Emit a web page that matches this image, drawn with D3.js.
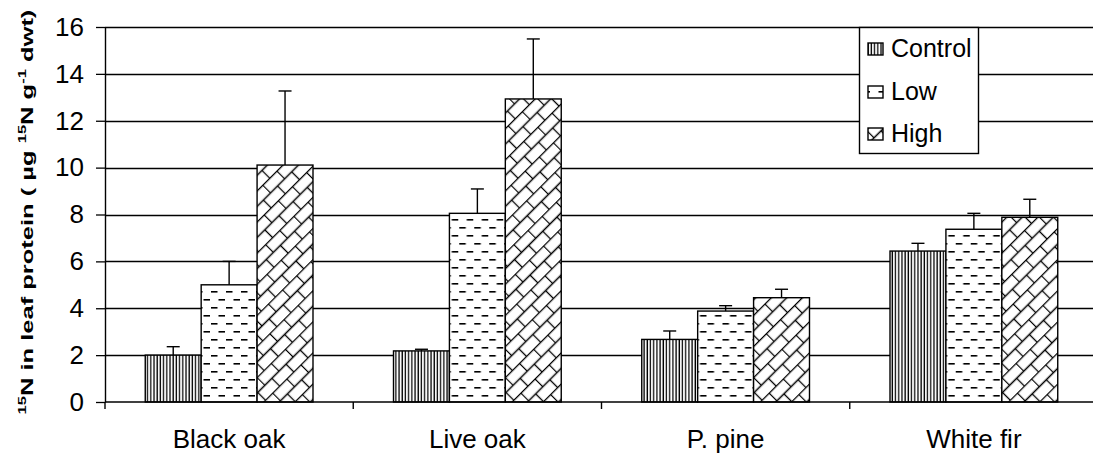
<!DOCTYPE html>
<html>
<head>
<meta charset="utf-8">
<script src="https://d3js.org/d3.v7.min.js"></script>
<style>
  body { margin: 0; background: #fff; }
  text { font-family: "Liberation Sans", Arial, sans-serif; fill: #000; }
</style>
</head>
<body>
<svg id="chart" width="1093" height="456"></svg>
<script>
// chart data
const categories = ["Black oak", "Live oak", "P. pine", "White fir"];
const series = ["Control", "Low", "High"];
const controlValues = [2.0, 2.18, 2.67, 6.44];
const controlErrors = [0.36, 0.07, 0.36, 0.33];
const lowValues = [5.0, 8.05, 3.88, 7.37];
const lowErrors = [1.0, 1.04, 0.23, 0.68];
const highValues = [10.11, 12.93, 4.45, 7.88];
const highErrors = [3.16, 2.56, 0.36, 0.77];
const yTicks = [0, 2, 4, 6, 8, 10, 12, 14, 16];

const values = {Control: controlValues, Low: lowValues, High: highValues};
const errors = {Control: controlErrors, Low: lowErrors, High: highErrors};
const patternIds = {Control: "patControl", Low: "patLow", High: "patHigh"};

const svg = d3.select("#chart");

// plot area edges
const plotLeft = 105, plotRight = 1098, plotTop = 27, plotBottom = 402;

const x0 = d3.scaleBand().domain(categories).range([plotLeft, plotRight]).paddingInner(0).paddingOuter(0);
const x1 = d3.scaleBand().domain(series).range([0, x0.bandwidth()]).paddingInner(0).paddingOuter(0.72);
const y = d3.scaleLinear().domain([0, 16]).range([plotBottom, plotTop]);

// fill patterns
const defs = svg.append("defs");

const pc = defs.append("pattern").attr("id", "patControl")
  .attr("patternUnits", "userSpaceOnUse").attr("width", 3.2).attr("height", 10);
pc.append("rect").attr("width", 3.2).attr("height", 10).attr("fill", "#fff");
pc.append("line").attr("x1", 1).attr("x2", 1).attr("y1", 0).attr("y2", 10)
  .attr("stroke", "#000").attr("stroke-width", 1.3);

const pl = defs.append("pattern").attr("id", "patLow")
  .attr("patternUnits", "userSpaceOnUse").attr("width", 15).attr("height", 16);
pl.append("rect").attr("width", 15).attr("height", 16).attr("fill", "#fff");
pl.append("rect").attr("x", 1).attr("y", 3).attr("width", 6.5).attr("height", 1.6).attr("fill", "#000");
pl.append("rect").attr("x", 8.5).attr("y", 11).attr("width", 6.5).attr("height", 1.6).attr("fill", "#000");

// brick pattern turned 45 degrees
const ph = defs.append("pattern").attr("id", "patHigh")
  .attr("patternUnits", "userSpaceOnUse").attr("width", 20).attr("height", 22)
  .attr("patternTransform", "rotate(-45)");
ph.append("rect").attr("width", 20).attr("height", 22).attr("fill", "#fff");
ph.append("path")
  .attr("d", "M0,0.5H20M0,11.5H20M0.5,0V11.5M10.5,11.5V22")
  .attr("stroke", "#000").attr("stroke-width", 1.3).attr("fill", "none");

// gridlines
svg.append("g").selectAll("line")
  .data(yTicks.filter(d => d > 0))
  .join("line")
  .attr("x1", plotLeft).attr("x2", 1093)
  .attr("y1", d => Math.round(y(d)) + 0.5).attr("y2", d => Math.round(y(d)) + 0.5)
  .attr("stroke", "#000").attr("stroke-width", 1.3);

// bars
const groups = svg.append("g").selectAll("g")
  .data(categories)
  .join("g")
  .attr("transform", d => "translate(" + x0(d) + ",0)");

groups.selectAll("rect")
  .data((d, i) => series.map(s => ({s: s, v: values[s][i], e: errors[s][i]})))
  .join("rect")
  .attr("x", d => x1(d.s))
  .attr("y", d => y(d.v))
  .attr("width", x1.bandwidth())
  .attr("height", d => y(0) - y(d.v))
  .attr("fill", d => "url(#" + patternIds[d.s] + ")")
  .attr("stroke", "#000").attr("stroke-width", 1.4);

// error bars, upward only
const err = groups.selectAll("g.err")
  .data((d, i) => series.map(s => ({s: s, v: values[s][i], e: errors[s][i]})))
  .join("g").attr("class", "err");
err.append("line")
  .attr("x1", d => x1(d.s) + x1.bandwidth() / 2).attr("x2", d => x1(d.s) + x1.bandwidth() / 2)
  .attr("y1", d => y(d.v)).attr("y2", d => y(d.v + d.e))
  .attr("stroke", "#000").attr("stroke-width", 1.4);
err.append("line")
  .attr("x1", d => x1(d.s) + x1.bandwidth() / 2 - 6.5).attr("x2", d => x1(d.s) + x1.bandwidth() / 2 + 6.5)
  .attr("y1", d => y(d.v + d.e)).attr("y2", d => y(d.v + d.e))
  .attr("stroke", "#000").attr("stroke-width", 1.4);

// y axis
const yAxis = svg.append("g")
  .attr("transform", "translate(" + plotLeft + ",0)")
  .call(d3.axisLeft(y).tickValues(yTicks).tickSize(9).tickPadding(12).tickSizeOuter(0));
yAxis.selectAll("line").attr("stroke", "#000").attr("stroke-width", 1.3);
yAxis.select(".domain").attr("stroke", "#000").attr("stroke-width", 1.4);
yAxis.selectAll("text").style("font-size", "26px").attr("font-family", null);

// x axis, ticks on category boundaries
svg.append("line")
  .attr("x1", plotLeft).attr("x2", 1093).attr("y1", plotBottom).attr("y2", plotBottom)
  .attr("stroke", "#000").attr("stroke-width", 1.4);
svg.append("g").selectAll("line")
  .data(categories)
  .join("line")
  .attr("x1", d => x0(d)).attr("x2", d => x0(d))
  .attr("y1", plotBottom).attr("y2", plotBottom + 7)
  .attr("stroke", "#000").attr("stroke-width", 1.4);
svg.append("g").selectAll("text")
  .data(categories)
  .join("text")
  .attr("x", d => x0(d) + x0.bandwidth() / 2)
  .attr("y", 448)
  .attr("text-anchor", "middle")
  .style("font-size", "26px")
  .text(d => d);

// y axis title with superscripts, stretched to the reference length
const title = svg.append("g").attr("transform", "translate(33,212) rotate(-90)")
  .append("text")
  .attr("text-anchor", "middle")
  .style("font-size", "17px").style("font-weight", "bold");
const parts = [["15", true], ["N in leaf protein ( \u00b5g ", false], ["15", true], ["N g", false], ["-1", true], [" dwt)", false]];
parts.forEach(p => {
  const t = title.append("tspan").text(p[0]);
  if (p[1]) t.style("font-size", "11px").attr("dy", -7);
  else t.attr("dy", 7);
});
title.select("tspan").attr("dy", -7);
const tw = title.node().getComputedTextLength();
title.attr("transform", "scale(" + (405 / tw) + ",1)");

// legend
const legend = svg.append("g");
legend.append("rect")
  .attr("x", 859.5).attr("y", 27.5).attr("width", 119).attr("height", 126)
  .attr("fill", "#fff").attr("stroke", "#000").attr("stroke-width", 1.4);
const rowBase = [57, 100, 142];
const items = legend.selectAll("g.item")
  .data(series)
  .join("g").attr("class", "item");
items.append("rect")
  .attr("x", 868).attr("y", (d, i) => rowBase[i] - 14)
  .attr("width", 15).attr("height", 12)
  .attr("fill", d => "url(#" + patternIds[d] + ")")
  .attr("stroke", "#000").attr("stroke-width", 1.4);
items.append("text")
  .attr("x", 891).attr("y", (d, i) => rowBase[i])
  .style("font-size", "25px")
  .text(d => d);
</script>
</body>
</html>
